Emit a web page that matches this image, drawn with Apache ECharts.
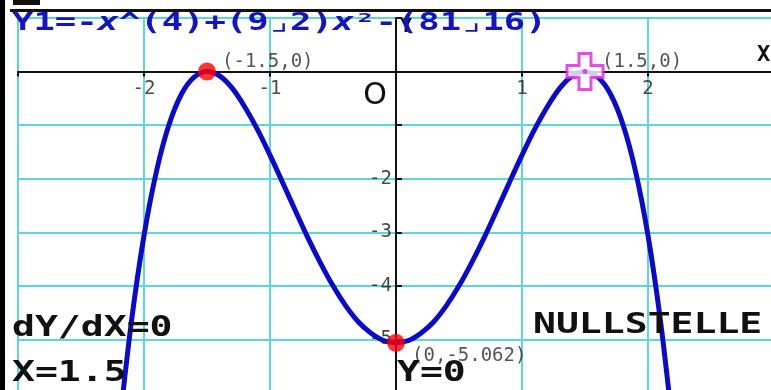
<!DOCTYPE html>
<html>
<head>
<meta charset="utf-8">
<script src="https://cdn.jsdelivr.net/npm/echarts@6/dist/echarts.min.js"></script>
<style>
html, body { margin: 0; padding: 0; background: #fff; }
#chart { width: 771px; height: 390px; }
</style>
</head>
<body>
<div id="chart"></div>
<script>
// Graph of Y1 = -x^4 + (9/2)x^2 - 81/16, sampled every 0.1
const xValues = [-2.2, -2.1, -2.0, -1.9, -1.8, -1.7, -1.6, -1.5, -1.4, -1.3, -1.2, -1.1, -1.0,
  -0.9, -0.8, -0.7, -0.6, -0.5, -0.4, -0.3, -0.2, -0.1, 0,
  0.1, 0.2, 0.3, 0.4, 0.5, 0.6, 0.7, 0.8, 0.9, 1.0, 1.1, 1.2, 1.3, 1.4, 1.5,
  1.6, 1.7, 1.8, 1.9, 2.0, 2.1, 2.2];
const yValues = [-6.71, -4.67, -3.06, -1.85, -0.98, -0.41, -0.10, 0, -0.08, -0.31, -0.66, -1.08, -1.56,
  -2.07, -2.59, -3.10, -3.57, -4.00, -4.37, -4.67, -4.88, -5.02, -5.06,
  -5.02, -4.88, -4.67, -4.37, -4.00, -3.57, -3.10, -2.59, -2.07, -1.56, -1.08, -0.66, -0.31, -0.08, 0,
  -0.10, -0.41, -0.98, -1.85, -3.06, -4.67, -6.71];

// Tick values that carry a printed label
const xLabelTicks = [-2, -1, 1, 2];
const yLabelTicks = [-2, -3, -4, -5];

// Marked points on the curve
const extremaX = [-1.5, 0];
const extremaY = [0, -5.0625];
const extremaText = ['(-1.5,0)', '(0,-5.062)'];
const traceX = [1.5];
const traceY = [0];
const traceText = ['(1.5,0)'];

const GRID = '#5cd8d8';
const CURVE = '#0a0acc';
const MONO = '"DejaVu Sans Mono", monospace';

const chart = echarts.init(document.getElementById('chart'), null, { renderer: 'canvas' });

function bigText(x, y, text) {
  return {
    type: 'text', x: x, y: y, scaleX: 1.36, z: 50,
    style: {
      text: text, fill: '#111', font: 'bold 28px ' + MONO,
      textAlign: 'left', textVerticalAlign: 'middle', align: 'left', verticalAlign: 'middle'
    }
  };
}

const tickLabelStyle = { color: '#1a1a1a', fontFamily: MONO, fontSize: 19 };

const option = {
  animation: false,
  backgroundColor: '#ffffff',
  grid: { left: 18, right: -3, top: 18, bottom: -3, containLabel: false, outerBoundsMode: 'none' },
  xAxis: {
    type: 'value', min: -3, max: 3, interval: 1,
    axisLine: { onZero: true, lineStyle: { color: '#111', width: 2 } },
    axisTick: { show: true, inside: false, length: 5, lineStyle: { color: '#111', width: 2 } },
    axisLabel: { show: false },
    splitLine: { show: true, lineStyle: { color: GRID, width: 2 } }
  },
  yAxis: {
    type: 'value', min: -6, max: 1, interval: 1,
    axisLine: { onZero: true, lineStyle: { color: '#111', width: 2 } },
    axisTick: { show: true, inside: true, length: 6, lineStyle: { color: '#111', width: 2 } },
    axisLabel: { show: false },
    splitLine: { show: true, lineStyle: { color: GRID, width: 2 } }
  },
  series: [
    {
      type: 'line', name: 'Y1',
      data: xValues.map((x, i) => [x, yValues[i]]),
      smooth: 0.3, showSymbol: false, clip: true,
      lineStyle: { color: CURVE, width: 5 }, z: 3
    },
    {
      // tick labels along the x axis, sitting under the axis line at y = 0
      type: 'scatter', name: 'x-ticks', silent: true,
      data: xLabelTicks.map(v => [v, 0]),
      symbolSize: 1, itemStyle: { color: 'transparent' },
      label: Object.assign({
        show: true, position: 'inside', align: 'center', verticalAlign: 'middle',
        offset: [0, 17], formatter: p => String(p.value[0])
      }, tickLabelStyle),
      z: 4
    },
    {
      // tick labels along the y axis, left of the axis line at x = 0
      type: 'scatter', name: 'y-ticks', silent: true,
      data: yLabelTicks.map(v => [0, v]),
      symbolSize: 1, itemStyle: { color: 'transparent' },
      label: Object.assign({
        show: true, position: 'inside', align: 'right', verticalAlign: 'middle',
        offset: [-4, 0], formatter: p => String(p.value[1])
      }, tickLabelStyle),
      z: 4
    },
    {
      type: 'scatter', name: 'extrema',
      data: extremaX.map((x, i) => ({
        value: [x, extremaY[i]],
        label: { offset: i === 0 ? [15, -10] : [16, 13] }
      })),
      symbol: 'circle', symbolSize: 18,
      itemStyle: { color: '#ff0000' },
      label: {
        show: true, position: 'inside', align: 'left', verticalAlign: 'middle',
        formatter: p => extremaText[p.dataIndex],
        color: '#2a2a2a', fontFamily: MONO, fontSize: 19
      },
      z: 6
    },
    {
      type: 'scatter', name: 'trace',
      data: traceX.map((x, i) => [x, traceY[i]]),
      symbol: 'path://M1,0H2V1H3V2H2V3H1V2H0V1H1Z', symbolSize: 36,
      itemStyle: { color: '#ffffff', borderColor: '#e020e0', borderWidth: 3 },
      label: {
        show: true, position: 'inside', align: 'left', verticalAlign: 'middle',
        offset: [17, -10],
        formatter: p => traceText[p.dataIndex],
        color: '#2a2a2a', fontFamily: MONO, fontSize: 19
      },
      z: 7
    },
    {
      type: 'scatter', name: 'trace-centre',
      data: traceX.map((x, i) => [x, traceY[i]]),
      symbol: 'circle', symbolSize: 5,
      itemStyle: { color: '#e020e0' }, silent: true, z: 8
    }
  ],
  graphic: [
    { type: 'rect', shape: { x: 0, y: 0, width: 5, height: 390 }, style: { fill: '#000' }, z: 60 },
    { type: 'rect', shape: { x: 10, y: 9, width: 761, height: 3 }, style: { fill: '#111' }, z: 60 },
    { type: 'rect', shape: { x: 13, y: 0, width: 27, height: 5 }, style: { fill: '#111' }, z: 60 },
    {
      type: 'text', x: 400, y: 27, z: 40,
      style: { text: 'Y', fill: '#111', font: 'bold 20px ' + MONO,
        textAlign: 'left', textVerticalAlign: 'middle', align: 'left', verticalAlign: 'middle' }
    },
    {
      type: 'text', x: 12, y: 24, scaleX: 1.48, z: 50,
      style: {
        text: '{n|Y1=-}{i|x}{n|^(4)+(9⌟2)}{i|x}{n|²-(81⌟16)}',
        textAlign: 'left', textVerticalAlign: 'middle', align: 'left', verticalAlign: 'middle',
        rich: {
          n: { fill: '#1414c0', fontFamily: MONO, fontSize: 24, fontWeight: 'bold' },
          i: { fill: '#1414c0', fontFamily: MONO, fontSize: 24, fontWeight: 'bold', fontStyle: 'italic' }
        }
      }
    },
    {
      type: 'text', x: 757, y: 55, z: 50,
      style: { text: 'X', fill: '#111', font: 'bold 22px ' + MONO,
        textAlign: 'left', textVerticalAlign: 'middle', align: 'left', verticalAlign: 'middle' }
    },
    {
      type: 'text', x: 375, y: 96, z: 50,
      style: { text: 'O', fill: '#111', font: '30px "DejaVu Sans", sans-serif',
        textAlign: 'center', textVerticalAlign: 'middle', align: 'center', verticalAlign: 'middle' }
    },
    bigText(12, 329, 'dY/dX=0'),
    bigText(12, 374, 'X=1.5'),
    bigText(397, 374, 'Y=0'),
    bigText(533, 326, 'NULLSTELLE')
  ]
};

chart.setOption(option);
</script>
</body>
</html>
